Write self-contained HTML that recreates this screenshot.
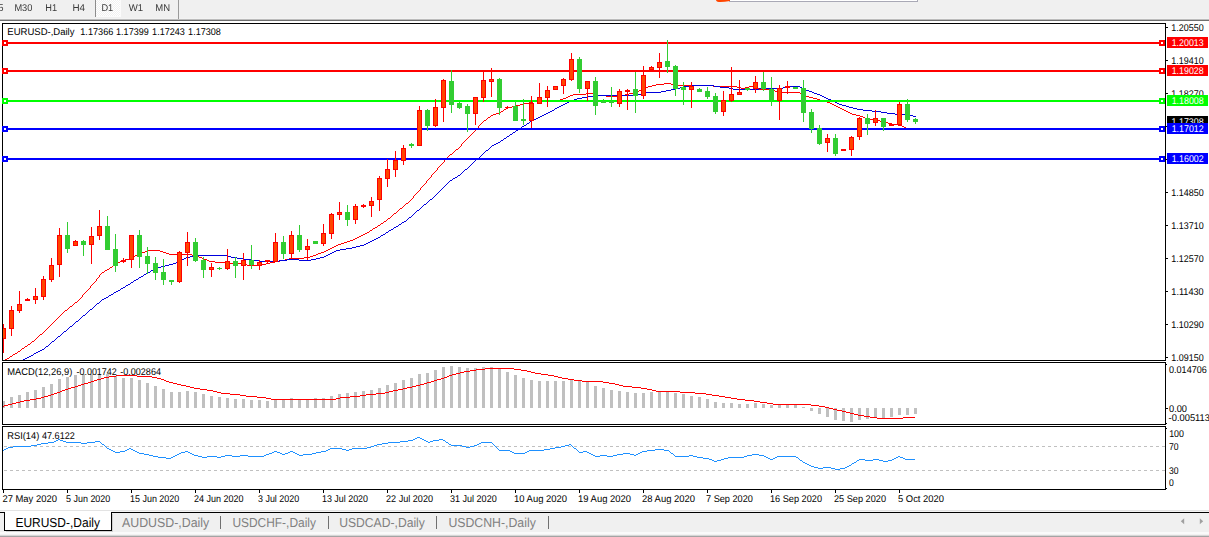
<!DOCTYPE html>
<html lang="en"><head><meta charset="utf-8"><title>EURUSD-,Daily</title>
<style>html,body{margin:0;padding:0;background:#fff;overflow:hidden}svg{display:block;font-family:'Liberation Sans', sans-serif;}text{white-space:pre;text-rendering:geometricPrecision}</style>
</head><body>
<svg width="1209" height="537" viewBox="0 0 1209 537" shape-rendering="crispEdges">
<rect x="0" y="0" width="1209" height="537" fill="#ffffff"/>
<rect x="0" y="0" width="1209" height="19" fill="#f0f0f0"/>
<rect x="0" y="18" width="1209" height="1" fill="#f3f3f3"/>
<rect x="0" y="19" width="1209" height="1" fill="#bcbcbc"/>
<rect x="0" y="20" width="1209" height="1" fill="#6f6f6f"/>
<defs><pattern id="chk" width="2" height="2" patternUnits="userSpaceOnUse"><rect width="2" height="2" fill="#f0f0f0"/><rect width="1" height="1" fill="#fff"/><rect x="1" y="1" width="1" height="1" fill="#fff"/></pattern></defs>
<rect x="96" y="0" width="24" height="16" fill="url(#chk)"/>
<rect x="95" y="0" width="1" height="17" fill="#8c8c8c"/>
<rect x="96" y="16" width="25" height="1" fill="#fbfbfb"/>
<rect x="120" y="0" width="1" height="17" fill="#fbfbfb"/>
<rect x="178" y="0" width="1" height="19" fill="#9a9a9a"/>
<rect x="729" y="0" width="188" height="1" fill="#ffffff"/>
<rect x="729" y="1" width="189" height="1" fill="#a9a9b6"/>
<rect x="917" y="0" width="1" height="2" fill="#a9a9b6"/>
<path d="M716 0 L730 0 L730 1 Q722 2.4 717.5 1.8 Q716 1.2 716 0 Z" fill="#ff4500" shape-rendering="auto"/>
<defs><clipPath id="cm"><rect x="3" y="24" width="1162" height="336"/></clipPath><clipPath id="cd"><rect x="3" y="363" width="1162" height="61"/></clipPath><clipPath id="cr"><rect x="3" y="427" width="1162" height="62"/></clipPath></defs>
<g clip-path="url(#cm)">
<path d="M4 360.5h1M5 359.5h2M7 358.5h2M9 357.5h1M10 356.5h2M12 355.5h1M13 354.5h2M15 353.5h2M17 352.5h1M18 351.5h2M20 350.5h1M21 349.5h1M22 348.5h2M24 347.5h1M25 346.5h2M27 345.5h1M28 344.5h2M30 343.5h1M31 342.5h1M32 341.5h2M34 340.5h1M35 339.5h1M36 338.5h1M37 337.5h1M38 336.5h1M39 335.5h1M40 334.5h2M42 333.5h1M43 332.5h1M44 331.5h1M45 330.5h1M46 329.5h1M47 328.5h1M48 327.5h1M49 326.5h1M50 325.5h1M51 324.5h1M52 323.5h1M53 322.5h1M54 321.5h1M55 320.5h1M56 319.5h1M57 318.5h1M58 317.5h1M59 316.5h1M60 315.5h1M61 314.5h1M62 313.5h1M63 312.5h1M64 311.5h1M65 310.5h2M67 309.5h1M68 308.5h1M69 307.5h1M70 306.5h2M72 305.5h1M73 304.5h1M74 303.5h1M75 302.5h2M77 301.5h1M78 300.5h1M79 299.5h1M80 298.5h1M81 297.5h1M82.5 295v2M83 294.5h1M84 293.5h1M85 292.5h1M86 291.5h1M87 290.5h1M88 289.5h1M89 288.5h1M90.5 286v2M91 285.5h1M92 284.5h1M93 283.5h1M94 282.5h1M95 281.5h1M96.5 279v2M97 278.5h1M98 277.5h1M99.5 275v2M100 274.5h1M101 273.5h1M102 272.5h2M104 271.5h1M105 270.5h2M107 269.5h2M109 268.5h1M110 267.5h2M112 266.5h1M113 265.5h2M115 264.5h2M117 263.5h1M118 262.5h2M120 261.5h2M122 260.5h3M125 259.5h4M129 258.5h2M131 257.5h2M133 256.5h2M135 255.5h2M137 254.5h3M140 253.5h2M142 252.5h3M145 251.5h2M147 250.5h13M160 251.5h3M163 252.5h3M166 253.5h3M169 254.5h23M192 255.5h4M196 256.5h3M199 257.5h3M202 258.5h2M204 259.5h3M207 260.5h2M209 261.5h6M215 262.5h13M228 263.5h13M241 264.5h6M247 265.5h10M257 264.5h9M266 263.5h4M270 262.5h5M275 261.5h5M280 260.5h5M285 259.5h4M289 258.5h15M304 257.5h6M310 256.5h3M313 255.5h3M316 254.5h2M318 253.5h3M321 252.5h3M324 251.5h2M326 250.5h2M328 249.5h2M330 248.5h2M332 247.5h2M334 246.5h2M336 245.5h2M338 244.5h3M341 243.5h3M344 242.5h3M347 241.5h3M350 240.5h3M353 239.5h2M355 238.5h2M357 237.5h2M359 236.5h2M361 235.5h2M363 234.5h2M365 233.5h2M367 232.5h2M369 231.5h1M370 230.5h2M372 229.5h1M373 228.5h2M375 227.5h2M377 226.5h1M378 225.5h2M380 224.5h1M381 223.5h2M383 222.5h1M384 221.5h2M386 220.5h1M387 219.5h1M388 218.5h2M390 217.5h1M391 216.5h1M392 215.5h1M393 214.5h1M394 213.5h2M396 212.5h1M397 211.5h1M398 210.5h1M399 209.5h1M400 208.5h2M402 207.5h1M403 206.5h1M404 205.5h1M405 204.5h1M406 203.5h2M408 202.5h1M409 201.5h1M410 200.5h1M411 199.5h1M412 198.5h1M413.5 196v2M414 195.5h1M415 194.5h1M416 193.5h1M417 192.5h1M418 191.5h1M419 190.5h1M420.5 188v2M421 187.5h1M422 186.5h1M423 185.5h1M424 184.5h1M425 183.5h1M426.5 181v2M427 180.5h1M428 179.5h1M429 178.5h1M430 177.5h1M431.5 175v2M432 174.5h1M433 173.5h1M434 172.5h1M435 171.5h1M436 170.5h1M437.5 168v2M438 167.5h1M439 166.5h1M440 165.5h1M441 164.5h1M442 163.5h1M443 162.5h1M444.5 160v2M445 159.5h1M446 158.5h1M447 157.5h1M448 156.5h1M449 155.5h1M450 154.5h2M452 153.5h1M453 152.5h1M454 151.5h1M455 150.5h1M456 149.5h2M458 148.5h1M459 147.5h1M460 146.5h1M461.5 144v2M462 143.5h1M463 142.5h1M464 141.5h1M465 140.5h1M466 139.5h1M467 138.5h1M468 137.5h1M469 136.5h1M470 135.5h1M471 134.5h1M472 133.5h1M473 132.5h1M474 131.5h1M475 130.5h1M476 129.5h1M477 128.5h1M478.5 126v2M479 125.5h1M480 124.5h1M481 123.5h1M482 122.5h1M483 121.5h1M484 120.5h2M486 119.5h1M487 118.5h1M488 117.5h2M490 116.5h1M491 115.5h2M493 114.5h3M496 113.5h3M499 112.5h2M501 111.5h2M503 110.5h1M504 109.5h2M506 108.5h2M508 107.5h4M512 106.5h4M516 105.5h4M520 104.5h4M524 103.5h5M529 102.5h4M533 101.5h4M537 100.5h23M560 99.5h3M563 98.5h3M566 97.5h2M568 96.5h2M570 95.5h3M573 94.5h13M586 93.5h8M594 94.5h4M598 95.5h8M606 96.5h12M618 95.5h7M625 94.5h4M629 93.5h4M633 92.5h3M636 91.5h3M639 90.5h3M642 89.5h2M644 88.5h2M646 87.5h2M648 86.5h4M652 85.5h4M656 84.5h8M664 83.5h7M671 84.5h4M675 85.5h38M713 86.5h24M737 87.5h4M741 88.5h4M745 87.5h4M749 86.5h4M753 87.5h3M756 88.5h3M759 89.5h12M771 90.5h4M775 91.5h4M779 92.5h21M800 93.5h2M802 94.5h2M804 95.5h2M806 96.5h3M809 97.5h4M813 98.5h4M817 99.5h3M820 100.5h4M824 101.5h3M827 102.5h3M830 103.5h2M832 104.5h2M834 105.5h2M836 106.5h2M838 107.5h2M840 108.5h2M842 109.5h2M844 110.5h2M846 111.5h2M848 112.5h2M850 113.5h2M852 114.5h4M856 115.5h4M860 116.5h3M863 117.5h2M865 118.5h4M869 119.5h6M875 120.5h5M880 121.5h4M884 122.5h4M888 123.5h4M892 124.5h6M898 125.5h4M902 126.5h2M904 127.5h2" fill="none" stroke="#ff0000" stroke-width="1"/>
<path d="M22 360.5h1M23 359.5h2M25 358.5h2M27 357.5h2M29 356.5h2M31 355.5h2M33 354.5h1M34 353.5h2M36 352.5h2M38 351.5h2M40 350.5h2M42 349.5h2M44 348.5h1M45 347.5h1M46 346.5h2M48 345.5h1M49 344.5h1M50 343.5h1M51 342.5h1M52 341.5h2M54 340.5h1M55 339.5h1M56 338.5h1M57 337.5h1M58 336.5h2M60 335.5h1M61 334.5h1M62 333.5h1M63 332.5h1M64 331.5h2M66 330.5h1M67 329.5h1M68 328.5h1M69 327.5h1M70 326.5h2M72 325.5h1M73 324.5h1M74 323.5h1M75 322.5h1M76 321.5h2M78 320.5h1M79 319.5h1M80 318.5h1M81 317.5h1M82 316.5h1M83 315.5h2M85 314.5h1M86 313.5h1M87 312.5h1M88 311.5h1M89 310.5h1M90 309.5h2M92 308.5h1M93 307.5h1M94 306.5h1M95 305.5h1M96 304.5h1M97 303.5h2M99 302.5h1M100 301.5h1M101 300.5h1M102 299.5h2M104 298.5h2M106 297.5h2M108 296.5h1M109 295.5h2M111 294.5h2M113 293.5h1M114 292.5h2M116 291.5h2M118 290.5h2M120 289.5h1M121 288.5h2M123 287.5h2M125 286.5h1M126 285.5h2M128 284.5h2M130 283.5h1M131 282.5h2M133 281.5h1M134 280.5h2M136 279.5h2M138 278.5h1M139 277.5h2M141 276.5h2M143 275.5h1M144 274.5h2M146 273.5h2M148 272.5h2M150 271.5h1M151 270.5h2M153 269.5h2M155 268.5h2M157 267.5h4M161 266.5h4M165 265.5h4M169 264.5h4M173 263.5h3M176 262.5h2M178 261.5h2M180 260.5h2M182 259.5h2M184 258.5h2M186 257.5h4M190 256.5h6M196 255.5h31M227 256.5h4M231 257.5h6M237 258.5h6M243 259.5h8M251 260.5h8M259 261.5h20M279 260.5h8M287 259.5h12M299 260.5h12M311 259.5h5M316 258.5h4M320 257.5h4M324 256.5h2M326 255.5h2M328 254.5h2M330 253.5h2M332 252.5h2M334 251.5h2M336 250.5h4M340 249.5h6M346 248.5h6M352 247.5h4M356 246.5h4M360 245.5h4M364 244.5h2M366 243.5h2M368 242.5h2M370 241.5h2M372 240.5h2M374 239.5h2M376 238.5h2M378 237.5h2M380 236.5h1M381 235.5h2M383 234.5h2M385 233.5h1M386 232.5h2M388 231.5h1M389 230.5h2M391 229.5h2M393 228.5h1M394 227.5h2M396 226.5h2M398 225.5h1M399 224.5h2M401 223.5h1M402 222.5h2M404 221.5h2M406 220.5h1M407 219.5h1M408 218.5h1M409 217.5h2M411 216.5h1M412 215.5h1M413 214.5h1M414 213.5h1M415 212.5h1M416 211.5h1M417 210.5h2M419 209.5h1M420 208.5h1M421 207.5h1M422 206.5h1M423 205.5h1M424 204.5h2M426 203.5h1M427 202.5h1M428 201.5h1M429 200.5h1M430 199.5h2M432 198.5h1M433 197.5h1M434 196.5h1M435 195.5h1M436 194.5h1M437 193.5h1M438 192.5h1M439 191.5h1M440 190.5h1M441 189.5h1M442 188.5h1M443 187.5h1M444 186.5h1M445 185.5h1M446 184.5h1M447 183.5h1M448 182.5h1M449 181.5h1M450 180.5h2M452 179.5h1M453 178.5h2M455 177.5h2M457 176.5h1M458 175.5h2M460 174.5h1M461 173.5h1M462 172.5h1M463 171.5h1M464 170.5h1M465 169.5h2M467 168.5h1M468 167.5h1M469 166.5h1M470 165.5h1M471 164.5h1M472 163.5h1M473 162.5h1M474 161.5h1M475 160.5h1M476 159.5h2M478 158.5h1M479 157.5h1M480 156.5h1M481 155.5h1M482 154.5h1M483 153.5h1M484 152.5h1M485 151.5h1M486 150.5h2M488 149.5h1M489 148.5h1M490 147.5h1M491 146.5h1M492 145.5h2M494 144.5h2M496 143.5h2M498 142.5h2M500 141.5h1M501 140.5h2M503 139.5h1M504 138.5h2M506 137.5h1M507 136.5h2M509 135.5h1M510 134.5h2M512 133.5h1M513 132.5h2M515 131.5h1M516 130.5h2M518 129.5h1M519 128.5h2M521 127.5h1M522 126.5h2M524 125.5h2M526 124.5h1M527 123.5h2M529 122.5h1M530 121.5h2M532 120.5h2M534 119.5h2M536 118.5h2M538 117.5h2M540 116.5h2M542 115.5h2M544 114.5h2M546 113.5h2M548 112.5h2M550 111.5h2M552 110.5h2M554 109.5h1M555 108.5h2M557 107.5h2M559 106.5h2M561 105.5h2M563 104.5h2M565 103.5h2M567 102.5h2M569 101.5h2M571 100.5h3M574 99.5h3M577 98.5h5M582 97.5h6M588 96.5h10M598 95.5h39M637 94.5h4M641 93.5h4M645 92.5h16M661 91.5h5M666 90.5h5M671 89.5h5M676 88.5h4M680 87.5h4M684 86.5h7M691 85.5h23M714 86.5h6M720 87.5h9M729 88.5h4M733 89.5h26M759 88.5h24M783 87.5h2M785 86.5h15M800 87.5h2M802 88.5h2M804 89.5h2M806 90.5h3M809 91.5h3M812 92.5h2M814 93.5h3M817 94.5h3M820 95.5h2M822 96.5h2M824 97.5h2M826 98.5h2M828 99.5h3M831 100.5h2M833 101.5h2M835 102.5h2M837 103.5h2M839 104.5h3M842 105.5h4M846 106.5h3M849 107.5h4M853 108.5h4M857 109.5h6M863 110.5h9M872 111.5h9M881 112.5h6M887 113.5h8M895 114.5h12M907 115.5h6M913 116.5h3" fill="none" stroke="#0000dd" stroke-width="1"/>
<rect x="3" y="42" width="1162" height="2" fill="#ff0000"/>
<rect x="3" y="70" width="1162" height="2" fill="#ff0000"/>
<rect x="3" y="100" width="1162" height="2" fill="#00ff00"/>
<rect x="3" y="128" width="1162" height="2" fill="#0000ff"/>
<rect x="3" y="158" width="1162" height="2" fill="#0000ff"/>
<rect x="3" y="324" width="1" height="29" fill="#ff0000"/>
<rect x="1" y="328" width="5" height="11" fill="#ff0000"/>
<rect x="2" y="329" width="3" height="9" fill="#ff4500"/>
<rect x="11" y="306" width="1" height="30" fill="#ff0000"/>
<rect x="9" y="310" width="5" height="19" fill="#ff0000"/>
<rect x="10" y="311" width="3" height="17" fill="#ff4500"/>
<rect x="19" y="291" width="1" height="22" fill="#ff0000"/>
<rect x="17" y="304" width="5" height="7" fill="#ff0000"/>
<rect x="18" y="305" width="3" height="5" fill="#ff4500"/>
<rect x="27" y="298" width="1" height="3" fill="#ff0000"/>
<rect x="25" y="299" width="5" height="2" fill="#ff0000"/>
<rect x="35" y="288" width="1" height="16" fill="#ff0000"/>
<rect x="33" y="296" width="5" height="4" fill="#ff0000"/>
<rect x="34" y="297" width="3" height="2" fill="#ff4500"/>
<rect x="43" y="276" width="1" height="24" fill="#ff0000"/>
<rect x="41" y="279" width="5" height="18" fill="#ff0000"/>
<rect x="42" y="280" width="3" height="16" fill="#ff4500"/>
<rect x="51" y="258" width="1" height="24" fill="#ff0000"/>
<rect x="49" y="265" width="5" height="15" fill="#ff0000"/>
<rect x="50" y="266" width="3" height="13" fill="#ff4500"/>
<rect x="59" y="228" width="1" height="49" fill="#ff0000"/>
<rect x="57" y="235" width="5" height="30" fill="#ff0000"/>
<rect x="58" y="236" width="3" height="28" fill="#ff4500"/>
<rect x="67" y="222" width="1" height="31" fill="#32cd32"/>
<rect x="65" y="235" width="5" height="14" fill="#32cd32"/>
<rect x="75" y="240" width="1" height="6" fill="#ff0000"/>
<rect x="73" y="241" width="5" height="5" fill="#ff0000"/>
<rect x="74" y="242" width="3" height="3" fill="#ff4500"/>
<rect x="83" y="240" width="1" height="16" fill="#32cd32"/>
<rect x="81" y="241" width="5" height="4" fill="#32cd32"/>
<rect x="91" y="227" width="1" height="37" fill="#ff0000"/>
<rect x="89" y="236" width="5" height="9" fill="#ff0000"/>
<rect x="90" y="237" width="3" height="7" fill="#ff4500"/>
<rect x="99" y="210" width="1" height="30" fill="#ff0000"/>
<rect x="97" y="226" width="5" height="10" fill="#ff0000"/>
<rect x="98" y="227" width="3" height="8" fill="#ff4500"/>
<rect x="107" y="216" width="1" height="34" fill="#32cd32"/>
<rect x="105" y="226" width="5" height="24" fill="#32cd32"/>
<rect x="115" y="234" width="1" height="38" fill="#32cd32"/>
<rect x="113" y="249" width="5" height="17" fill="#32cd32"/>
<rect x="123" y="258" width="1" height="5" fill="#ff0000"/>
<rect x="121" y="260" width="5" height="2" fill="#ff0000"/>
<rect x="131" y="235" width="1" height="33" fill="#ff0000"/>
<rect x="129" y="235" width="5" height="25" fill="#ff0000"/>
<rect x="130" y="236" width="3" height="23" fill="#ff4500"/>
<rect x="139" y="230" width="1" height="38" fill="#32cd32"/>
<rect x="137" y="235" width="5" height="22" fill="#32cd32"/>
<rect x="147" y="247" width="1" height="27" fill="#32cd32"/>
<rect x="145" y="256" width="5" height="8" fill="#32cd32"/>
<rect x="155" y="257" width="1" height="23" fill="#32cd32"/>
<rect x="153" y="263" width="5" height="10" fill="#32cd32"/>
<rect x="163" y="259" width="1" height="26" fill="#32cd32"/>
<rect x="161" y="272" width="5" height="8" fill="#32cd32"/>
<rect x="171" y="280" width="1" height="5" fill="#32cd32"/>
<rect x="169" y="280" width="5" height="2" fill="#32cd32"/>
<rect x="179" y="251" width="1" height="32" fill="#ff0000"/>
<rect x="177" y="252" width="5" height="30" fill="#ff0000"/>
<rect x="178" y="253" width="3" height="28" fill="#ff4500"/>
<rect x="187" y="232" width="1" height="34" fill="#ff0000"/>
<rect x="185" y="242" width="5" height="11" fill="#ff0000"/>
<rect x="186" y="243" width="3" height="9" fill="#ff4500"/>
<rect x="195" y="238" width="1" height="24" fill="#32cd32"/>
<rect x="193" y="242" width="5" height="19" fill="#32cd32"/>
<rect x="203" y="257" width="1" height="21" fill="#32cd32"/>
<rect x="201" y="260" width="5" height="10" fill="#32cd32"/>
<rect x="211" y="263" width="1" height="14" fill="#ff0000"/>
<rect x="209" y="267" width="5" height="3" fill="#ff0000"/>
<rect x="210" y="268" width="3" height="1" fill="#ff4500"/>
<rect x="219" y="267" width="1" height="3" fill="#32cd32"/>
<rect x="217" y="268" width="5" height="1" fill="#32cd32"/>
<rect x="227" y="249" width="1" height="21" fill="#ff0000"/>
<rect x="225" y="261" width="5" height="8" fill="#ff0000"/>
<rect x="226" y="262" width="3" height="6" fill="#ff4500"/>
<rect x="235" y="257" width="1" height="21" fill="#32cd32"/>
<rect x="233" y="261" width="5" height="5" fill="#32cd32"/>
<rect x="243" y="253" width="1" height="27" fill="#ff0000"/>
<rect x="241" y="260" width="5" height="6" fill="#ff0000"/>
<rect x="242" y="261" width="3" height="4" fill="#ff4500"/>
<rect x="251" y="245" width="1" height="24" fill="#32cd32"/>
<rect x="249" y="260" width="5" height="5" fill="#32cd32"/>
<rect x="259" y="260" width="1" height="10" fill="#ff0000"/>
<rect x="257" y="262" width="5" height="4" fill="#ff0000"/>
<rect x="258" y="263" width="3" height="2" fill="#ff4500"/>
<rect x="267" y="260" width="1" height="3" fill="#ff0000"/>
<rect x="265" y="260" width="5" height="2" fill="#ff0000"/>
<rect x="275" y="233" width="1" height="29" fill="#ff0000"/>
<rect x="273" y="242" width="5" height="20" fill="#ff0000"/>
<rect x="274" y="243" width="3" height="18" fill="#ff4500"/>
<rect x="283" y="236" width="1" height="23" fill="#32cd32"/>
<rect x="281" y="242" width="5" height="12" fill="#32cd32"/>
<rect x="291" y="231" width="1" height="28" fill="#ff0000"/>
<rect x="289" y="235" width="5" height="19" fill="#ff0000"/>
<rect x="290" y="236" width="3" height="17" fill="#ff4500"/>
<rect x="299" y="225" width="1" height="27" fill="#32cd32"/>
<rect x="297" y="235" width="5" height="15" fill="#32cd32"/>
<rect x="307" y="239" width="1" height="21" fill="#ff0000"/>
<rect x="305" y="246" width="5" height="4" fill="#ff0000"/>
<rect x="306" y="247" width="3" height="2" fill="#ff4500"/>
<rect x="315" y="241" width="1" height="3" fill="#32cd32"/>
<rect x="313" y="241" width="5" height="3" fill="#32cd32"/>
<rect x="323" y="224" width="1" height="22" fill="#ff0000"/>
<rect x="321" y="233" width="5" height="11" fill="#ff0000"/>
<rect x="322" y="234" width="3" height="9" fill="#ff4500"/>
<rect x="331" y="213" width="1" height="26" fill="#ff0000"/>
<rect x="329" y="214" width="5" height="20" fill="#ff0000"/>
<rect x="330" y="215" width="3" height="18" fill="#ff4500"/>
<rect x="339" y="202" width="1" height="18" fill="#ff0000"/>
<rect x="337" y="212" width="5" height="3" fill="#ff0000"/>
<rect x="338" y="213" width="3" height="1" fill="#ff4500"/>
<rect x="347" y="205" width="1" height="21" fill="#32cd32"/>
<rect x="345" y="212" width="5" height="8" fill="#32cd32"/>
<rect x="355" y="204" width="1" height="20" fill="#ff0000"/>
<rect x="353" y="206" width="5" height="14" fill="#ff0000"/>
<rect x="354" y="207" width="3" height="12" fill="#ff4500"/>
<rect x="363" y="204" width="1" height="4" fill="#ff0000"/>
<rect x="361" y="205" width="5" height="2" fill="#ff0000"/>
<rect x="371" y="197" width="1" height="20" fill="#ff0000"/>
<rect x="369" y="201" width="5" height="5" fill="#ff0000"/>
<rect x="370" y="202" width="3" height="3" fill="#ff4500"/>
<rect x="379" y="176" width="1" height="35" fill="#ff0000"/>
<rect x="377" y="178" width="5" height="22" fill="#ff0000"/>
<rect x="378" y="179" width="3" height="20" fill="#ff4500"/>
<rect x="387" y="159" width="1" height="28" fill="#ff0000"/>
<rect x="385" y="169" width="5" height="10" fill="#ff0000"/>
<rect x="386" y="170" width="3" height="8" fill="#ff4500"/>
<rect x="395" y="151" width="1" height="26" fill="#ff0000"/>
<rect x="393" y="160" width="5" height="10" fill="#ff0000"/>
<rect x="394" y="161" width="3" height="8" fill="#ff4500"/>
<rect x="403" y="145" width="1" height="20" fill="#ff0000"/>
<rect x="401" y="148" width="5" height="13" fill="#ff0000"/>
<rect x="402" y="149" width="3" height="11" fill="#ff4500"/>
<rect x="411" y="143" width="1" height="5" fill="#32cd32"/>
<rect x="409" y="144" width="5" height="2" fill="#32cd32"/>
<rect x="419" y="106" width="1" height="40" fill="#ff0000"/>
<rect x="417" y="110" width="5" height="36" fill="#ff0000"/>
<rect x="418" y="111" width="3" height="34" fill="#ff4500"/>
<rect x="427" y="109" width="1" height="22" fill="#32cd32"/>
<rect x="425" y="110" width="5" height="16" fill="#32cd32"/>
<rect x="435" y="99" width="1" height="28" fill="#ff0000"/>
<rect x="433" y="107" width="5" height="19" fill="#ff0000"/>
<rect x="434" y="108" width="3" height="17" fill="#ff4500"/>
<rect x="443" y="79" width="1" height="43" fill="#ff0000"/>
<rect x="441" y="80" width="5" height="28" fill="#ff0000"/>
<rect x="442" y="81" width="3" height="26" fill="#ff4500"/>
<rect x="451" y="70" width="1" height="43" fill="#32cd32"/>
<rect x="449" y="81" width="5" height="24" fill="#32cd32"/>
<rect x="459" y="102" width="1" height="7" fill="#32cd32"/>
<rect x="457" y="103" width="5" height="5" fill="#32cd32"/>
<rect x="467" y="104" width="1" height="28" fill="#32cd32"/>
<rect x="465" y="106" width="5" height="8" fill="#32cd32"/>
<rect x="475" y="97" width="1" height="28" fill="#ff0000"/>
<rect x="473" y="97" width="5" height="17" fill="#ff0000"/>
<rect x="474" y="98" width="3" height="15" fill="#ff4500"/>
<rect x="483" y="71" width="1" height="31" fill="#ff0000"/>
<rect x="481" y="80" width="5" height="18" fill="#ff0000"/>
<rect x="482" y="81" width="3" height="16" fill="#ff4500"/>
<rect x="491" y="68" width="1" height="29" fill="#ff0000"/>
<rect x="489" y="79" width="5" height="3" fill="#ff0000"/>
<rect x="490" y="80" width="3" height="1" fill="#ff4500"/>
<rect x="499" y="78" width="1" height="37" fill="#32cd32"/>
<rect x="497" y="79" width="5" height="29" fill="#32cd32"/>
<rect x="507" y="106" width="1" height="3" fill="#ff0000"/>
<rect x="505" y="107" width="5" height="1" fill="#ff0000"/>
<rect x="515" y="101" width="1" height="20" fill="#32cd32"/>
<rect x="513" y="106" width="5" height="15" fill="#32cd32"/>
<rect x="523" y="99" width="1" height="26" fill="#32cd32"/>
<rect x="521" y="119" width="5" height="2" fill="#32cd32"/>
<rect x="531" y="96" width="1" height="32" fill="#ff0000"/>
<rect x="529" y="103" width="5" height="18" fill="#ff0000"/>
<rect x="530" y="104" width="3" height="16" fill="#ff4500"/>
<rect x="539" y="83" width="1" height="21" fill="#ff0000"/>
<rect x="537" y="97" width="5" height="7" fill="#ff0000"/>
<rect x="538" y="98" width="3" height="5" fill="#ff4500"/>
<rect x="547" y="86" width="1" height="21" fill="#ff0000"/>
<rect x="545" y="90" width="5" height="8" fill="#ff0000"/>
<rect x="546" y="91" width="3" height="6" fill="#ff4500"/>
<rect x="555" y="86" width="1" height="4" fill="#ff0000"/>
<rect x="553" y="86" width="5" height="4" fill="#ff0000"/>
<rect x="554" y="87" width="3" height="2" fill="#ff4500"/>
<rect x="563" y="78" width="1" height="16" fill="#ff0000"/>
<rect x="561" y="79" width="5" height="7" fill="#ff0000"/>
<rect x="562" y="80" width="3" height="5" fill="#ff4500"/>
<rect x="571" y="53" width="1" height="28" fill="#ff0000"/>
<rect x="569" y="59" width="5" height="21" fill="#ff0000"/>
<rect x="570" y="60" width="3" height="19" fill="#ff4500"/>
<rect x="579" y="57" width="1" height="36" fill="#32cd32"/>
<rect x="577" y="59" width="5" height="30" fill="#32cd32"/>
<rect x="587" y="81" width="1" height="20" fill="#ff0000"/>
<rect x="585" y="81" width="5" height="8" fill="#ff0000"/>
<rect x="586" y="82" width="3" height="6" fill="#ff4500"/>
<rect x="595" y="77" width="1" height="38" fill="#32cd32"/>
<rect x="593" y="81" width="5" height="25" fill="#32cd32"/>
<rect x="603" y="99" width="1" height="4" fill="#32cd32"/>
<rect x="601" y="101" width="5" height="2" fill="#32cd32"/>
<rect x="611" y="87" width="1" height="20" fill="#32cd32"/>
<rect x="609" y="101" width="5" height="2" fill="#32cd32"/>
<rect x="619" y="89" width="1" height="18" fill="#ff0000"/>
<rect x="617" y="91" width="5" height="13" fill="#ff0000"/>
<rect x="618" y="92" width="3" height="11" fill="#ff4500"/>
<rect x="627" y="89" width="1" height="21" fill="#ff0000"/>
<rect x="625" y="90" width="5" height="2" fill="#ff0000"/>
<rect x="635" y="72" width="1" height="41" fill="#32cd32"/>
<rect x="633" y="89" width="5" height="7" fill="#32cd32"/>
<rect x="643" y="66" width="1" height="33" fill="#ff0000"/>
<rect x="641" y="75" width="5" height="21" fill="#ff0000"/>
<rect x="642" y="76" width="3" height="19" fill="#ff4500"/>
<rect x="651" y="66" width="1" height="4" fill="#ff0000"/>
<rect x="649" y="67" width="5" height="3" fill="#ff0000"/>
<rect x="650" y="68" width="3" height="1" fill="#ff4500"/>
<rect x="659" y="53" width="1" height="25" fill="#ff0000"/>
<rect x="657" y="62" width="5" height="6" fill="#ff0000"/>
<rect x="658" y="63" width="3" height="4" fill="#ff4500"/>
<rect x="667" y="40" width="1" height="33" fill="#32cd32"/>
<rect x="665" y="61" width="5" height="6" fill="#32cd32"/>
<rect x="675" y="65" width="1" height="31" fill="#32cd32"/>
<rect x="673" y="66" width="5" height="23" fill="#32cd32"/>
<rect x="683" y="82" width="1" height="23" fill="#32cd32"/>
<rect x="681" y="87" width="5" height="3" fill="#32cd32"/>
<rect x="691" y="82" width="1" height="26" fill="#ff0000"/>
<rect x="689" y="86" width="5" height="4" fill="#ff0000"/>
<rect x="690" y="87" width="3" height="2" fill="#ff4500"/>
<rect x="699" y="88" width="1" height="4" fill="#32cd32"/>
<rect x="697" y="89" width="5" height="3" fill="#32cd32"/>
<rect x="707" y="87" width="1" height="12" fill="#32cd32"/>
<rect x="705" y="91" width="5" height="6" fill="#32cd32"/>
<rect x="715" y="93" width="1" height="21" fill="#32cd32"/>
<rect x="713" y="96" width="5" height="16" fill="#32cd32"/>
<rect x="723" y="91" width="1" height="25" fill="#ff0000"/>
<rect x="721" y="100" width="5" height="12" fill="#ff0000"/>
<rect x="722" y="101" width="3" height="10" fill="#ff4500"/>
<rect x="731" y="67" width="1" height="35" fill="#ff0000"/>
<rect x="729" y="94" width="5" height="7" fill="#ff0000"/>
<rect x="730" y="95" width="3" height="5" fill="#ff4500"/>
<rect x="739" y="80" width="1" height="15" fill="#ff0000"/>
<rect x="737" y="92" width="5" height="3" fill="#ff0000"/>
<rect x="738" y="93" width="3" height="1" fill="#ff4500"/>
<rect x="747" y="88" width="1" height="3" fill="#32cd32"/>
<rect x="745" y="88" width="5" height="2" fill="#32cd32"/>
<rect x="755" y="76" width="1" height="17" fill="#ff0000"/>
<rect x="753" y="82" width="5" height="7" fill="#ff0000"/>
<rect x="754" y="83" width="3" height="5" fill="#ff4500"/>
<rect x="763" y="72" width="1" height="19" fill="#32cd32"/>
<rect x="761" y="82" width="5" height="7" fill="#32cd32"/>
<rect x="771" y="77" width="1" height="29" fill="#32cd32"/>
<rect x="769" y="89" width="5" height="11" fill="#32cd32"/>
<rect x="779" y="85" width="1" height="35" fill="#ff0000"/>
<rect x="777" y="88" width="5" height="13" fill="#ff0000"/>
<rect x="778" y="89" width="3" height="11" fill="#ff4500"/>
<rect x="787" y="81" width="1" height="13" fill="#ff0000"/>
<rect x="785" y="86" width="5" height="2" fill="#ff0000"/>
<rect x="795" y="87" width="1" height="2" fill="#32cd32"/>
<rect x="793" y="87" width="5" height="2" fill="#32cd32"/>
<rect x="803" y="80" width="1" height="42" fill="#32cd32"/>
<rect x="801" y="88" width="5" height="25" fill="#32cd32"/>
<rect x="811" y="109" width="1" height="24" fill="#32cd32"/>
<rect x="809" y="112" width="5" height="17" fill="#32cd32"/>
<rect x="819" y="125" width="1" height="20" fill="#32cd32"/>
<rect x="817" y="128" width="5" height="16" fill="#32cd32"/>
<rect x="827" y="134" width="1" height="18" fill="#ff0000"/>
<rect x="825" y="138" width="5" height="5" fill="#ff0000"/>
<rect x="826" y="139" width="3" height="3" fill="#ff4500"/>
<rect x="835" y="134" width="1" height="22" fill="#32cd32"/>
<rect x="833" y="138" width="5" height="16" fill="#32cd32"/>
<rect x="843" y="149" width="1" height="2" fill="#ff0000"/>
<rect x="841" y="149" width="5" height="2" fill="#ff0000"/>
<rect x="851" y="136" width="1" height="20" fill="#ff0000"/>
<rect x="849" y="137" width="5" height="13" fill="#ff0000"/>
<rect x="850" y="138" width="3" height="11" fill="#ff4500"/>
<rect x="859" y="117" width="1" height="23" fill="#ff0000"/>
<rect x="857" y="118" width="5" height="19" fill="#ff0000"/>
<rect x="858" y="119" width="3" height="17" fill="#ff4500"/>
<rect x="867" y="114" width="1" height="21" fill="#32cd32"/>
<rect x="865" y="118" width="5" height="6" fill="#32cd32"/>
<rect x="875" y="110" width="1" height="16" fill="#ff0000"/>
<rect x="873" y="118" width="5" height="5" fill="#ff0000"/>
<rect x="874" y="119" width="3" height="3" fill="#ff4500"/>
<rect x="883" y="118" width="1" height="13" fill="#32cd32"/>
<rect x="881" y="118" width="5" height="9" fill="#32cd32"/>
<rect x="891" y="124" width="1" height="2" fill="#ff0000"/>
<rect x="889" y="124" width="5" height="2" fill="#ff0000"/>
<rect x="899" y="102" width="1" height="24" fill="#ff0000"/>
<rect x="897" y="104" width="5" height="21" fill="#ff0000"/>
<rect x="898" y="105" width="3" height="19" fill="#ff4500"/>
<rect x="907" y="99" width="1" height="23" fill="#32cd32"/>
<rect x="905" y="104" width="5" height="16" fill="#32cd32"/>
<rect x="915" y="118" width="1" height="6" fill="#32cd32"/>
<rect x="913" y="119" width="5" height="3" fill="#32cd32"/>
</g>
<rect x="2" y="23" width="1164" height="1" fill="#000"/>
<rect x="2" y="360" width="1164" height="1" fill="#000"/>
<rect x="2" y="23" width="1" height="338" fill="#000"/>
<rect x="1165" y="23" width="1" height="338" fill="#000"/>
<rect x="2" y="40" width="6" height="6" fill="#ff0000"/>
<rect x="4" y="42" width="2" height="2" fill="#fff"/>
<rect x="1159" y="40" width="6" height="6" fill="#ff0000"/>
<rect x="1161" y="42" width="2" height="2" fill="#fff"/>
<rect x="2" y="68" width="6" height="6" fill="#ff0000"/>
<rect x="4" y="70" width="2" height="2" fill="#fff"/>
<rect x="1159" y="68" width="6" height="6" fill="#ff0000"/>
<rect x="1161" y="70" width="2" height="2" fill="#fff"/>
<rect x="2" y="98" width="6" height="6" fill="#00ff00"/>
<rect x="4" y="100" width="2" height="2" fill="#fff"/>
<rect x="1159" y="98" width="6" height="6" fill="#00ff00"/>
<rect x="1161" y="100" width="2" height="2" fill="#fff"/>
<rect x="2" y="126" width="6" height="6" fill="#0000ff"/>
<rect x="4" y="128" width="2" height="2" fill="#fff"/>
<rect x="1159" y="126" width="6" height="6" fill="#0000ff"/>
<rect x="1161" y="128" width="2" height="2" fill="#fff"/>
<rect x="2" y="156" width="6" height="6" fill="#0000ff"/>
<rect x="4" y="158" width="2" height="2" fill="#fff"/>
<rect x="1159" y="156" width="6" height="6" fill="#0000ff"/>
<rect x="1161" y="158" width="2" height="2" fill="#fff"/>
<g clip-path="url(#cd)">
<rect x="2" y="401" width="3" height="7" fill="#c0c0c0"/>
<rect x="10" y="397" width="3" height="11" fill="#c0c0c0"/>
<rect x="18" y="395" width="3" height="13" fill="#c0c0c0"/>
<rect x="26" y="392" width="3" height="16" fill="#c0c0c0"/>
<rect x="34" y="390" width="3" height="18" fill="#c0c0c0"/>
<rect x="42" y="387" width="3" height="21" fill="#c0c0c0"/>
<rect x="50" y="384" width="3" height="24" fill="#c0c0c0"/>
<rect x="58" y="379" width="3" height="29" fill="#c0c0c0"/>
<rect x="66" y="377" width="3" height="31" fill="#c0c0c0"/>
<rect x="74" y="375" width="3" height="33" fill="#c0c0c0"/>
<rect x="82" y="374" width="3" height="34" fill="#c0c0c0"/>
<rect x="90" y="374" width="3" height="34" fill="#c0c0c0"/>
<rect x="98" y="374" width="3" height="34" fill="#c0c0c0"/>
<rect x="106" y="374" width="3" height="34" fill="#c0c0c0"/>
<rect x="114" y="376" width="3" height="32" fill="#c0c0c0"/>
<rect x="122" y="378" width="3" height="30" fill="#c0c0c0"/>
<rect x="130" y="378" width="3" height="30" fill="#c0c0c0"/>
<rect x="138" y="380" width="3" height="28" fill="#c0c0c0"/>
<rect x="146" y="383" width="3" height="25" fill="#c0c0c0"/>
<rect x="154" y="386" width="3" height="22" fill="#c0c0c0"/>
<rect x="162" y="389" width="3" height="19" fill="#c0c0c0"/>
<rect x="170" y="392" width="3" height="16" fill="#c0c0c0"/>
<rect x="178" y="392" width="3" height="16" fill="#c0c0c0"/>
<rect x="186" y="391" width="3" height="17" fill="#c0c0c0"/>
<rect x="194" y="392" width="3" height="16" fill="#c0c0c0"/>
<rect x="202" y="394" width="3" height="14" fill="#c0c0c0"/>
<rect x="210" y="396" width="3" height="12" fill="#c0c0c0"/>
<rect x="218" y="397" width="3" height="11" fill="#c0c0c0"/>
<rect x="226" y="398" width="3" height="10" fill="#c0c0c0"/>
<rect x="234" y="399" width="3" height="9" fill="#c0c0c0"/>
<rect x="242" y="399" width="3" height="9" fill="#c0c0c0"/>
<rect x="250" y="400" width="3" height="8" fill="#c0c0c0"/>
<rect x="258" y="400" width="3" height="8" fill="#c0c0c0"/>
<rect x="266" y="401" width="3" height="7" fill="#c0c0c0"/>
<rect x="274" y="400" width="3" height="8" fill="#c0c0c0"/>
<rect x="282" y="400" width="3" height="8" fill="#c0c0c0"/>
<rect x="290" y="398" width="3" height="10" fill="#c0c0c0"/>
<rect x="298" y="400" width="3" height="8" fill="#c0c0c0"/>
<rect x="306" y="400" width="3" height="8" fill="#c0c0c0"/>
<rect x="314" y="398" width="3" height="10" fill="#c0c0c0"/>
<rect x="322" y="398" width="3" height="10" fill="#c0c0c0"/>
<rect x="330" y="396" width="3" height="12" fill="#c0c0c0"/>
<rect x="338" y="394" width="3" height="14" fill="#c0c0c0"/>
<rect x="346" y="393" width="3" height="15" fill="#c0c0c0"/>
<rect x="354" y="392" width="3" height="16" fill="#c0c0c0"/>
<rect x="362" y="391" width="3" height="17" fill="#c0c0c0"/>
<rect x="370" y="390" width="3" height="18" fill="#c0c0c0"/>
<rect x="378" y="388" width="3" height="20" fill="#c0c0c0"/>
<rect x="386" y="385" width="3" height="23" fill="#c0c0c0"/>
<rect x="394" y="383" width="3" height="25" fill="#c0c0c0"/>
<rect x="402" y="380" width="3" height="28" fill="#c0c0c0"/>
<rect x="410" y="378" width="3" height="30" fill="#c0c0c0"/>
<rect x="418" y="374" width="3" height="34" fill="#c0c0c0"/>
<rect x="426" y="373" width="3" height="35" fill="#c0c0c0"/>
<rect x="434" y="370" width="3" height="38" fill="#c0c0c0"/>
<rect x="442" y="367" width="3" height="41" fill="#c0c0c0"/>
<rect x="450" y="366" width="3" height="42" fill="#c0c0c0"/>
<rect x="458" y="367" width="3" height="41" fill="#c0c0c0"/>
<rect x="466" y="368" width="3" height="40" fill="#c0c0c0"/>
<rect x="474" y="368" width="3" height="40" fill="#c0c0c0"/>
<rect x="482" y="367" width="3" height="41" fill="#c0c0c0"/>
<rect x="490" y="367" width="3" height="41" fill="#c0c0c0"/>
<rect x="498" y="368" width="3" height="40" fill="#c0c0c0"/>
<rect x="506" y="372" width="3" height="36" fill="#c0c0c0"/>
<rect x="514" y="375" width="3" height="33" fill="#c0c0c0"/>
<rect x="522" y="378" width="3" height="30" fill="#c0c0c0"/>
<rect x="530" y="380" width="3" height="28" fill="#c0c0c0"/>
<rect x="538" y="381" width="3" height="27" fill="#c0c0c0"/>
<rect x="546" y="381" width="3" height="27" fill="#c0c0c0"/>
<rect x="554" y="381" width="3" height="27" fill="#c0c0c0"/>
<rect x="562" y="381" width="3" height="27" fill="#c0c0c0"/>
<rect x="570" y="379" width="3" height="29" fill="#c0c0c0"/>
<rect x="578" y="380" width="3" height="28" fill="#c0c0c0"/>
<rect x="586" y="381" width="3" height="27" fill="#c0c0c0"/>
<rect x="594" y="386" width="3" height="22" fill="#c0c0c0"/>
<rect x="602" y="388" width="3" height="20" fill="#c0c0c0"/>
<rect x="610" y="390" width="3" height="18" fill="#c0c0c0"/>
<rect x="618" y="391" width="3" height="17" fill="#c0c0c0"/>
<rect x="626" y="392" width="3" height="16" fill="#c0c0c0"/>
<rect x="634" y="393" width="3" height="15" fill="#c0c0c0"/>
<rect x="642" y="393" width="3" height="15" fill="#c0c0c0"/>
<rect x="650" y="392" width="3" height="16" fill="#c0c0c0"/>
<rect x="658" y="391" width="3" height="17" fill="#c0c0c0"/>
<rect x="666" y="392" width="3" height="16" fill="#c0c0c0"/>
<rect x="674" y="393" width="3" height="15" fill="#c0c0c0"/>
<rect x="682" y="394" width="3" height="14" fill="#c0c0c0"/>
<rect x="690" y="396" width="3" height="12" fill="#c0c0c0"/>
<rect x="698" y="397" width="3" height="11" fill="#c0c0c0"/>
<rect x="706" y="399" width="3" height="9" fill="#c0c0c0"/>
<rect x="714" y="402" width="3" height="6" fill="#c0c0c0"/>
<rect x="722" y="403" width="3" height="5" fill="#c0c0c0"/>
<rect x="730" y="403" width="3" height="5" fill="#c0c0c0"/>
<rect x="738" y="404" width="3" height="4" fill="#c0c0c0"/>
<rect x="746" y="404" width="3" height="4" fill="#c0c0c0"/>
<rect x="754" y="403" width="3" height="5" fill="#c0c0c0"/>
<rect x="762" y="404" width="3" height="4" fill="#c0c0c0"/>
<rect x="770" y="405" width="3" height="3" fill="#c0c0c0"/>
<rect x="778" y="405" width="3" height="3" fill="#c0c0c0"/>
<rect x="786" y="405" width="3" height="3" fill="#c0c0c0"/>
<rect x="794" y="405" width="3" height="3" fill="#c0c0c0"/>
<rect x="802" y="407" width="3" height="1" fill="#c0c0c0"/>
<rect x="810" y="408" width="3" height="3" fill="#c0c0c0"/>
<rect x="818" y="408" width="3" height="6" fill="#c0c0c0"/>
<rect x="826" y="408" width="3" height="9" fill="#c0c0c0"/>
<rect x="834" y="408" width="3" height="12" fill="#c0c0c0"/>
<rect x="842" y="408" width="3" height="13" fill="#c0c0c0"/>
<rect x="850" y="408" width="3" height="14" fill="#c0c0c0"/>
<rect x="858" y="408" width="3" height="12" fill="#c0c0c0"/>
<rect x="866" y="408" width="3" height="11" fill="#c0c0c0"/>
<rect x="874" y="408" width="3" height="9" fill="#c0c0c0"/>
<rect x="882" y="408" width="3" height="10" fill="#c0c0c0"/>
<rect x="890" y="408" width="3" height="9" fill="#c0c0c0"/>
<rect x="898" y="408" width="3" height="7" fill="#c0c0c0"/>
<rect x="906" y="408" width="3" height="7" fill="#c0c0c0"/>
<rect x="914" y="408" width="3" height="6" fill="#c0c0c0"/>
<path d="M2 406.5h2M4 405.5h4M8 404.5h4M12 403.5h4M16 402.5h4M20 401.5h4M24 400.5h6M30 399.5h6M36 398.5h5M41 397.5h3M44 396.5h4M48 395.5h3M51 394.5h3M54 393.5h3M57 392.5h3M60 391.5h2M62 390.5h3M65 389.5h3M68 388.5h3M71 387.5h4M75 386.5h3M78 385.5h3M81 384.5h3M84 383.5h4M88 382.5h3M91 381.5h3M94 380.5h3M97 379.5h4M101 378.5h3M104 377.5h5M109 376.5h7M116 375.5h21M137 376.5h15M152 377.5h5M157 378.5h4M161 379.5h3M164 380.5h2M166 381.5h3M169 382.5h4M173 383.5h4M177 384.5h4M181 385.5h5M186 386.5h4M190 387.5h4M194 388.5h6M200 389.5h7M207 390.5h6M213 391.5h4M217 392.5h4M221 393.5h9M230 394.5h10M240 395.5h6M246 396.5h11M257 397.5h9M266 398.5h5M271 399.5h65M336 398.5h4M340 397.5h10M350 396.5h10M360 395.5h6M366 394.5h10M376 393.5h9M385 392.5h4M389 391.5h4M393 390.5h5M398 389.5h5M403 388.5h4M407 387.5h5M412 386.5h4M416 385.5h4M420 384.5h4M424 383.5h3M427 382.5h4M431 381.5h3M434 380.5h3M437 379.5h4M441 378.5h3M444 377.5h3M447 376.5h2M449 375.5h3M452 374.5h4M456 373.5h4M460 372.5h4M464 371.5h6M470 370.5h6M476 369.5h9M485 368.5h29M514 369.5h7M521 370.5h6M527 371.5h4M531 372.5h4M535 373.5h6M541 374.5h7M548 375.5h6M554 376.5h4M558 377.5h4M562 378.5h6M568 379.5h6M574 380.5h8M582 381.5h21M603 382.5h6M609 383.5h6M615 384.5h4M619 385.5h4M623 386.5h9M632 387.5h9M641 388.5h6M647 389.5h5M652 390.5h4M656 391.5h24M680 392.5h15M695 393.5h11M706 394.5h6M712 395.5h7M719 396.5h6M725 397.5h6M731 398.5h6M737 399.5h8M745 400.5h9M754 401.5h6M760 402.5h7M767 403.5h6M773 404.5h38M811 405.5h8M819 406.5h6M825 407.5h4M829 408.5h4M833 409.5h4M837 410.5h5M842 411.5h4M846 412.5h4M850 413.5h4M854 414.5h4M858 415.5h6M864 416.5h6M870 417.5h7M877 418.5h26M903 417.5h12" fill="none" stroke="#ff0000" stroke-width="1"/>
</g>
<rect x="2" y="362" width="1164" height="1" fill="#000"/>
<rect x="2" y="424" width="1164" height="1" fill="#000"/>
<rect x="2" y="362" width="1" height="63" fill="#000"/>
<rect x="1165" y="362" width="1" height="63" fill="#000"/>
<g clip-path="url(#cr)">
<line x1="4" y1="446.5" x2="1165" y2="446.5" stroke="#c0c0c0" stroke-width="1" stroke-dasharray="3 3"/>
<line x1="4" y1="470.5" x2="1165" y2="470.5" stroke="#c0c0c0" stroke-width="1" stroke-dasharray="3 3"/>
<path d="M2 450.5h2M4 449.5h2M6 448.5h2M8 447.5h5M13 446.5h18M31 445.5h6M37 444.5h4M41 443.5h7M48 442.5h6M54 441.5h2M56 440.5h2M58 439.5h2M60 440.5h3M63 441.5h3M66 442.5h15M81 443.5h6M87 442.5h8M95 441.5h5M100 442.5h1M101 443.5h1M102 444.5h2M104 445.5h1M105 446.5h1M106 447.5h1M107 448.5h2M109 449.5h2M111 450.5h2M113 451.5h2M115 452.5h5M120 451.5h5M125 450.5h2M127 449.5h2M129 448.5h2M131 449.5h2M133 450.5h2M135 451.5h2M137 452.5h2M139 453.5h5M144 454.5h5M149 455.5h4M153 456.5h5M158 457.5h8M166 458.5h5M171 457.5h2M173 456.5h2M175 455.5h2M177 454.5h2M179 453.5h2M181 452.5h4M185 451.5h3M188 452.5h2M190 453.5h2M192 454.5h2M194 455.5h4M198 456.5h4M202 457.5h5M207 456.5h10M217 457.5h4M221 456.5h4M225 455.5h7M232 456.5h8M240 455.5h8M248 456.5h16M264 455.5h2M266 454.5h3M269 453.5h3M272 452.5h2M274 451.5h3M277 452.5h3M280 453.5h2M282 454.5h3M285 453.5h3M288 452.5h2M290 451.5h3M293 452.5h2M295 453.5h2M297 454.5h2M299 455.5h4M303 454.5h9M312 453.5h4M316 452.5h5M321 451.5h5M326 450.5h2M328 449.5h2M330 448.5h12M342 449.5h4M346 450.5h3M349 449.5h3M352 448.5h15M367 447.5h4M371 446.5h3M374 445.5h3M377 444.5h5M382 443.5h6M388 442.5h12M400 441.5h8M408 440.5h5M413 439.5h2M415 438.5h2M417 437.5h3M420 438.5h2M422 439.5h2M424 440.5h2M426 441.5h2M428 442.5h2M430 441.5h3M433 440.5h6M439 439.5h4M443 440.5h2M445 441.5h1M446 442.5h2M448 443.5h1M449 444.5h2M451 445.5h11M462 446.5h4M466 447.5h4M470 446.5h4M474 445.5h3M477 444.5h2M479 443.5h2M481 442.5h11M492 443.5h1M493 444.5h1M494 445.5h1M495 446.5h1M496 447.5h1M497 448.5h1M498 449.5h1M499 450.5h11M510 451.5h2M512 452.5h2M514 453.5h11M525 452.5h2M527 451.5h2M529 450.5h15M544 449.5h6M550 448.5h5M555 447.5h6M561 446.5h4M565 445.5h4M569 444.5h2M571 445.5h1M572 446.5h1M573 447.5h1M574 448.5h2M576 449.5h1M577 450.5h1M578 451.5h1M579 452.5h4M583 451.5h4M587 452.5h2M589 453.5h2M591 454.5h2M593 455.5h2M595 456.5h5M600 455.5h7M607 456.5h6M613 455.5h4M617 454.5h6M623 453.5h7M630 454.5h4M634 455.5h2M636 454.5h2M638 453.5h2M640 452.5h2M642 451.5h5M647 450.5h8M655 449.5h9M664 450.5h5M669 451.5h1M670 452.5h1M671 453.5h2M673 454.5h1M674 455.5h1M675 456.5h14M689 455.5h4M693 456.5h4M697 457.5h6M703 458.5h6M709 459.5h3M712 460.5h2M714 461.5h3M717 460.5h4M721 459.5h3M724 458.5h4M728 457.5h16M744 456.5h3M747 455.5h5M752 454.5h7M759 455.5h5M764 456.5h2M766 457.5h2M768 458.5h2M770 459.5h3M773 458.5h2M775 457.5h2M777 456.5h19M796 457.5h2M798 458.5h1M799 459.5h1M800 460.5h2M802 461.5h1M803 462.5h2M805 463.5h2M807 464.5h2M809 465.5h2M811 466.5h3M814 467.5h4M818 468.5h5M823 467.5h8M831 468.5h4M835 469.5h5M840 468.5h5M845 467.5h2M847 466.5h2M849 465.5h2M851 464.5h1M852 463.5h2M854 462.5h2M856 461.5h1M857 460.5h2M859 459.5h6M865 460.5h8M873 459.5h6M879 460.5h4M883 461.5h5M888 460.5h4M892 459.5h2M894 458.5h2M896 457.5h2M898 456.5h2M900 457.5h3M903 458.5h2M905 459.5h10" fill="none" stroke="#1e90ff" stroke-width="1"/>
</g>
<rect x="2" y="426" width="1164" height="1" fill="#000"/>
<rect x="2" y="489" width="1164" height="1" fill="#000"/>
<rect x="2" y="426" width="1" height="64" fill="#000"/>
<rect x="1165" y="426" width="1" height="64" fill="#000"/>
<text x="7.3" y="35" font-size="9.8" fill="#000" textLength="67.2" lengthAdjust="spacingAndGlyphs">EURUSD-,Daily</text>
<text x="80.3" y="35" font-size="9.8" fill="#000" textLength="33" lengthAdjust="spacingAndGlyphs">1.17366</text>
<text x="116.1" y="35" font-size="9.8" fill="#000" textLength="32.6" lengthAdjust="spacingAndGlyphs">1.17399</text>
<text x="152.1" y="35" font-size="9.8" fill="#000" textLength="32.8" lengthAdjust="spacingAndGlyphs">1.17243</text>
<text x="188.1" y="35" font-size="9.8" fill="#000" textLength="32.8" lengthAdjust="spacingAndGlyphs">1.17308</text>
<text x="7.3" y="375" font-size="9.8" fill="#000" textLength="65" lengthAdjust="spacingAndGlyphs">MACD(12,26,9)</text>
<text x="76.5" y="375" font-size="9.8" fill="#000" textLength="40.2" lengthAdjust="spacingAndGlyphs">-0.001742</text>
<text x="120.2" y="375" font-size="9.8" fill="#000" textLength="40.8" lengthAdjust="spacingAndGlyphs">-0.002864</text>
<text x="7.3" y="439" font-size="9.8" fill="#000" textLength="32" lengthAdjust="spacingAndGlyphs">RSI(14)</text>
<text x="42" y="439" font-size="9.8" fill="#000" textLength="32.8" lengthAdjust="spacingAndGlyphs">47.6122</text>
<rect x="1166" y="27" width="2" height="1" fill="#000"/>
<text x="1171.3" y="31" font-size="9.8" fill="#000" textLength="32.4" lengthAdjust="spacingAndGlyphs">1.20550</text>
<rect x="1166" y="60" width="2" height="1" fill="#000"/>
<text x="1171.3" y="64" font-size="9.8" fill="#000" textLength="32.4" lengthAdjust="spacingAndGlyphs">1.19410</text>
<rect x="1166" y="93" width="2" height="1" fill="#000"/>
<text x="1171.3" y="97" font-size="9.8" fill="#000" textLength="32.4" lengthAdjust="spacingAndGlyphs">1.18270</text>
<rect x="1166" y="126" width="2" height="1" fill="#000"/>
<text x="1171.3" y="130" font-size="9.8" fill="#000" textLength="32.4" lengthAdjust="spacingAndGlyphs">1.17130</text>
<rect x="1166" y="159" width="2" height="1" fill="#000"/>
<text x="1171.3" y="163" font-size="9.8" fill="#000" textLength="32.4" lengthAdjust="spacingAndGlyphs">1.15990</text>
<rect x="1166" y="192" width="2" height="1" fill="#000"/>
<text x="1171.3" y="196" font-size="9.8" fill="#000" textLength="32.4" lengthAdjust="spacingAndGlyphs">1.14850</text>
<rect x="1166" y="225" width="2" height="1" fill="#000"/>
<text x="1171.3" y="229" font-size="9.8" fill="#000" textLength="32.4" lengthAdjust="spacingAndGlyphs">1.13710</text>
<rect x="1166" y="258" width="2" height="1" fill="#000"/>
<text x="1171.3" y="262" font-size="9.8" fill="#000" textLength="32.4" lengthAdjust="spacingAndGlyphs">1.12570</text>
<rect x="1166" y="291" width="2" height="1" fill="#000"/>
<text x="1171.3" y="295" font-size="9.8" fill="#000" textLength="32.4" lengthAdjust="spacingAndGlyphs">1.11430</text>
<rect x="1166" y="324" width="2" height="1" fill="#000"/>
<text x="1171.3" y="328" font-size="9.8" fill="#000" textLength="32.4" lengthAdjust="spacingAndGlyphs">1.10290</text>
<rect x="1166" y="357" width="2" height="1" fill="#000"/>
<text x="1171.3" y="361" font-size="9.8" fill="#000" textLength="32.4" lengthAdjust="spacingAndGlyphs">1.09150</text>
<rect x="1167" y="116" width="41" height="11" fill="#000"/>
<text x="1171.5" y="125" font-size="9.8" fill="#fff" textLength="32.2" lengthAdjust="spacingAndGlyphs">1.17308</text>
<rect x="1167" y="37" width="41" height="11" fill="#ff0000"/>
<text x="1171.7" y="45.9" font-size="9.8" fill="#fff" textLength="32.0" lengthAdjust="spacingAndGlyphs">1.20013</text>
<rect x="1167" y="65" width="41" height="11" fill="#ff0000"/>
<text x="1171.7" y="73.9" font-size="9.8" fill="#fff" textLength="32.0" lengthAdjust="spacingAndGlyphs">1.19028</text>
<rect x="1167" y="95" width="41" height="11" fill="#00ff00"/>
<text x="1171.7" y="103.9" font-size="9.8" fill="#fff" textLength="32.0" lengthAdjust="spacingAndGlyphs">1.18008</text>
<rect x="1167" y="123" width="41" height="11" fill="#0000ff"/>
<text x="1171.7" y="131.9" font-size="9.8" fill="#fff" textLength="32.0" lengthAdjust="spacingAndGlyphs">1.17012</text>
<rect x="1167" y="153" width="41" height="11" fill="#0000ff"/>
<text x="1171.7" y="161.9" font-size="9.8" fill="#fff" textLength="32.0" lengthAdjust="spacingAndGlyphs">1.16002</text>
<rect x="1166" y="364" width="1" height="1" fill="#000"/>
<rect x="1166" y="408" width="2" height="1" fill="#000"/>
<rect x="1166" y="423" width="1" height="1" fill="#000"/>
<text x="1169" y="372.9" font-size="9.8" fill="#000" textLength="37.8" lengthAdjust="spacingAndGlyphs">0.014706</text>
<text x="1169" y="411.6" font-size="9.8" fill="#000" textLength="18" lengthAdjust="spacingAndGlyphs">0.00</text>
<text x="1168.6" y="420.5" font-size="9.8" fill="#000" textLength="41.4" lengthAdjust="spacingAndGlyphs">-0.005113</text>
<rect x="1166" y="428" width="1" height="1" fill="#000"/>
<rect x="1166" y="488" width="1" height="1" fill="#000"/>
<text x="1169.2" y="436.8" font-size="9.8" fill="#000" textLength="14.8" lengthAdjust="spacingAndGlyphs">100</text>
<text x="1169" y="449.9" font-size="9.8" fill="#000" textLength="9.6" lengthAdjust="spacingAndGlyphs">70</text>
<text x="1169" y="473.7" font-size="9.8" fill="#000" textLength="9.6" lengthAdjust="spacingAndGlyphs">30</text>
<text x="1169" y="485.6" font-size="9.8" fill="#000" textLength="4.8" lengthAdjust="spacingAndGlyphs">0</text>
<rect x="3" y="490" width="1" height="3" fill="#000"/>
<text x="2.4" y="502.3" font-size="9.8" fill="#000" textLength="54.5" lengthAdjust="spacingAndGlyphs">27 May 2020</text>
<rect x="67" y="490" width="1" height="3" fill="#000"/>
<text x="66.0" y="502.3" font-size="9.8" fill="#000" textLength="44.3" lengthAdjust="spacingAndGlyphs">5 Jun 2020</text>
<rect x="131" y="490" width="1" height="3" fill="#000"/>
<text x="130.0" y="502.3" font-size="9.8" fill="#000" textLength="49.3" lengthAdjust="spacingAndGlyphs">15 Jun 2020</text>
<rect x="195" y="490" width="1" height="3" fill="#000"/>
<text x="194.0" y="502.3" font-size="9.8" fill="#000" textLength="49.6" lengthAdjust="spacingAndGlyphs">24 Jun 2020</text>
<rect x="259" y="490" width="1" height="3" fill="#000"/>
<text x="258.0" y="502.3" font-size="9.8" fill="#000" textLength="41.1" lengthAdjust="spacingAndGlyphs">3 Jul 2020</text>
<rect x="323" y="490" width="1" height="3" fill="#000"/>
<text x="322.0" y="502.3" font-size="9.8" fill="#000" textLength="46" lengthAdjust="spacingAndGlyphs">13 Jul 2020</text>
<rect x="387" y="490" width="1" height="3" fill="#000"/>
<text x="386.0" y="502.3" font-size="9.8" fill="#000" textLength="47" lengthAdjust="spacingAndGlyphs">22 Jul 2020</text>
<rect x="451" y="490" width="1" height="3" fill="#000"/>
<text x="450.0" y="502.3" font-size="9.8" fill="#000" textLength="46.7" lengthAdjust="spacingAndGlyphs">31 Jul 2020</text>
<rect x="515" y="490" width="1" height="3" fill="#000"/>
<text x="514.0" y="502.3" font-size="9.8" fill="#000" textLength="53" lengthAdjust="spacingAndGlyphs">10 Aug 2020</text>
<rect x="579" y="490" width="1" height="3" fill="#000"/>
<text x="578.0" y="502.3" font-size="9.8" fill="#000" textLength="53" lengthAdjust="spacingAndGlyphs">19 Aug 2020</text>
<rect x="643" y="490" width="1" height="3" fill="#000"/>
<text x="642.0" y="502.3" font-size="9.8" fill="#000" textLength="53" lengthAdjust="spacingAndGlyphs">28 Aug 2020</text>
<rect x="707" y="490" width="1" height="3" fill="#000"/>
<text x="706.0" y="502.3" font-size="9.8" fill="#000" textLength="46.9" lengthAdjust="spacingAndGlyphs">7 Sep 2020</text>
<rect x="771" y="490" width="1" height="3" fill="#000"/>
<text x="770.0" y="502.3" font-size="9.8" fill="#000" textLength="52" lengthAdjust="spacingAndGlyphs">16 Sep 2020</text>
<rect x="835" y="490" width="1" height="3" fill="#000"/>
<text x="834.0" y="502.3" font-size="9.8" fill="#000" textLength="52" lengthAdjust="spacingAndGlyphs">25 Sep 2020</text>
<rect x="899" y="490" width="1" height="3" fill="#000"/>
<text x="898.0" y="502.3" font-size="9.8" fill="#000" textLength="46" lengthAdjust="spacingAndGlyphs">5 Oct 2020</text>
<rect x="0" y="510" width="1209" height="1" fill="#e3e3e3"/>
<rect x="0" y="511" width="1209" height="1" fill="#f4f4f4"/>
<rect x="0" y="512" width="1209" height="20" fill="#f0f0f0"/>
<rect x="0" y="532" width="1209" height="2" fill="#fafafa"/>
<rect x="0" y="534" width="1209" height="1" fill="#f2f2f2"/>
<rect x="0" y="535" width="1209" height="1" fill="#d6d6d6"/>
<rect x="0" y="536" width="1209" height="1" fill="#a4a4a4"/>
<rect x="0" y="512" width="5" height="1" fill="#000"/>
<rect x="111" y="512" width="1098" height="1" fill="#000"/>
<rect x="5" y="511" width="106" height="19" fill="#fff"/>
<rect x="4" y="512" width="1" height="19" fill="#000"/>
<rect x="111" y="512" width="1" height="19" fill="#000"/>
<rect x="4" y="530" width="108" height="1" fill="#000"/>
<rect x="112" y="514" width="1" height="18" fill="#d0d0d0"/>
<rect x="6" y="531" width="107" height="1" fill="#d0d0d0"/>
<text x="15.4" y="527" font-size="13" fill="#000" textLength="84.6" lengthAdjust="spacingAndGlyphs">EURUSD-,Daily</text>
<text x="122" y="527" font-size="13" fill="#808080" textLength="87.3" lengthAdjust="spacingAndGlyphs">AUDUSD-,Daily</text>
<text x="232.4" y="527" font-size="13" fill="#808080" textLength="83.5" lengthAdjust="spacingAndGlyphs">USDCHF-,Daily</text>
<text x="339.2" y="527" font-size="13" fill="#808080" textLength="85.7" lengthAdjust="spacingAndGlyphs">USDCAD-,Daily</text>
<text x="448.4" y="527" font-size="13" fill="#808080" textLength="87.4" lengthAdjust="spacingAndGlyphs">USDCNH-,Daily</text>
<rect x="220" y="516" width="1" height="13" fill="#707070"/>
<rect x="328" y="516" width="1" height="13" fill="#707070"/>
<rect x="436" y="516" width="1" height="13" fill="#707070"/>
<rect x="548" y="516" width="1" height="13" fill="#707070"/>
<path d="M1184.2 518.2 L1184.2 524.2 L1180.8 521.2 Z" fill="#a0a0a0" shape-rendering="auto"/>
<path d="M1199.8 518.2 L1199.8 524.2 L1203.2 521.2 Z" fill="#a0a0a0" shape-rendering="auto"/>
</svg>
<svg width="200" height="19" viewBox="0 0 200 19" style="position:absolute;left:0;top:0;will-change:transform;opacity:0.99">
<text x="-1.5" y="10.8" font-size="9.8" fill="#383838" textLength="5" lengthAdjust="spacingAndGlyphs">5</text>
<text x="14.4" y="10.8" font-size="9.8" fill="#383838" textLength="18" lengthAdjust="spacingAndGlyphs">M30</text>
<text x="45.3" y="10.8" font-size="9.8" fill="#383838" textLength="11.8" lengthAdjust="spacingAndGlyphs">H1</text>
<text x="72.5" y="10.8" font-size="9.8" fill="#383838" textLength="12.6" lengthAdjust="spacingAndGlyphs">H4</text>
<text x="101.4" y="10.8" font-size="9.8" fill="#383838" textLength="11.8" lengthAdjust="spacingAndGlyphs">D1</text>
<text x="128.8" y="10.8" font-size="9.8" fill="#383838" textLength="14.4" lengthAdjust="spacingAndGlyphs">W1</text>
<text x="155.3" y="10.8" font-size="9.8" fill="#383838" textLength="14.8" lengthAdjust="spacingAndGlyphs">MN</text>
</svg>
</body></html>
